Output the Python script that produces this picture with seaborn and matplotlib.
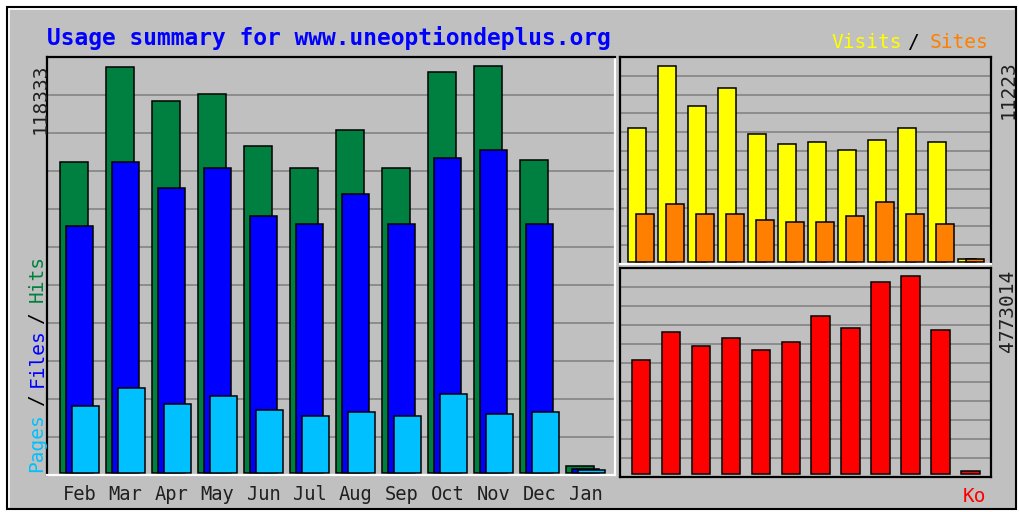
import matplotlib
matplotlib.use('Agg')
import matplotlib.pyplot as plt
import seaborn as sns
import numpy as np
from matplotlib.patches import Rectangle

# monthly usage values
months = ['Feb', 'Mar', 'Apr', 'May', 'Jun', 'Jul', 'Aug', 'Sep', 'Oct', 'Nov', 'Dec', 'Jan']
hits = [90400, 117900, 108150, 110200, 95050, 88650, 99700, 88650, 116550, 118333, 91000, 2000]
files = [71800, 90400, 82850, 88650, 74700, 72400, 81100, 72400, 91550, 93900, 72400, 1200]
pages = [19500, 24700, 20050, 22400, 18300, 16550, 17750, 16550, 22950, 17150, 17750, 900]
visits = [7670, 11223, 8930, 9960, 7330, 6760, 6870, 6410, 6990, 7670, 6870, 170]
sites = [2750, 3320, 2750, 2750, 2400, 2290, 2290, 2630, 3440, 2750, 2180, 170]
kbytes = [2737900, 3416300, 3077100, 3270900, 2980200, 3174000, 3803900, 3513200,
          4627700, 4773014, 3464800, 80000]

GREY = '#C0C0C0'
GRID = '#8c8c8c'
W, H = 1019, 512
MONO = 'DejaVu Sans Mono'

sns.set_style('white')
fig = plt.figure(figsize=(W / 100, H / 100), dpi=100)
fig.patch.set_facecolor('white')


def px(x, y):
    return x / W, 1 - y / H


def box(x0, y0, x1, y1):
    return [x0 / W, 1 - y1 / H, (x1 - x0) / W, (y1 - y0) / H]


# outer frame, kept behind the axes
fig.patches.append(Rectangle(px(7, 509), 1009 / W, 502 / H, transform=fig.transFigure,
                             facecolor=GREY, edgecolor='black', lw=1.5, zorder=-10))
fig.add_artist(plt.Line2D([9 / W, 1014 / W], [1 - 9 / H, 1 - 9 / H], color='white', lw=1.2,
                          transform=fig.transFigure, zorder=-9))
fig.add_artist(plt.Line2D([9 / W, 9 / W], [1 - 9 / H, 1 - 507 / H], color='white', lw=1.2,
                          transform=fig.transFigure, zorder=-9))


def setup(ax, vmax, below, above, span, xlim, spine_cols):
    ax.set_facecolor(GREY)
    lo = -vmax * below / span
    hi = vmax * (span + above) / span
    ax.set_ylim(lo, hi)
    ax.set_xlim(*xlim)
    for k in range(1, 11):
        ax.axhline(lo + (hi - lo) * k / 11, color=GRID, lw=1.4, zorder=0)
    for side, col in zip(['left', 'top', 'right', 'bottom'], spine_cols):
        ax.spines[side].set_visible(True)
        ax.spines[side].set_color(col)
        ax.spines[side].set_linewidth(1.6)
    ax.set_xlabel('')
    ax.set_ylabel('')
    ax.set_yticks([])


def bars(ax, pos, vals, color, width):
    sns.barplot(x=pos, y=vals, native_scale=True, color=color, width=width, saturation=1,
                edgecolor='black', linewidth=1.1, errorbar=None, ax=ax, zorder=2)


pos = np.arange(len(months), dtype=float)

# main panel: pages / files / hits
ax_main = fig.add_axes(box(47, 57, 615, 475))
bars(ax_main, pos - 0.12, hits, '#008040', 0.61)
bars(ax_main, pos, files, '#0000FF', 0.58)
bars(ax_main, pos + 0.13, pages, '#00C0FF', 0.59)
setup(ax_main, max(hits), 2, 9, 407, (-0.707, 11.64), ['black', 'black', 'white', 'white'])
ax_main.set_xticks(pos)
ax_main.set_xticklabels(months, fontsize=13.5, family=MONO, color='#202020')
ax_main.tick_params(axis='x', length=0, pad=7)

# visits / sites panel
ax_vis = fig.add_axes(box(620, 57, 991, 264))
bars(ax_vis, pos - 0.135, visits, '#FFFF00', 0.6)
bars(ax_vis, pos + 0.135, sites, '#FF8000', 0.6)
setup(ax_vis, max(visits), 2, 9, 196, (-0.7, 11.67), ['black', 'black', 'black', 'white'])
ax_vis.set_xticks([])

# kbytes panel
ax_kb = fig.add_axes(box(620, 268, 991, 477))
bars(ax_kb, pos, kbytes, '#FF0000', 0.63)
setup(ax_kb, max(kbytes), 3, 8, 198, (-0.7, 11.67), ['black', 'black', 'black', 'black'])
ax_kb.set_xticks([])

# texts
fig.text(*px(47, 38), 'Usage summary for www.uneoptiondeplus.org', family=MONO,
         fontweight='bold', fontsize=16.5, color='#0000FF', ha='left', va='center')

fig.text(*px(902, 42), 'Visits', family=MONO, fontsize=14, color='#FFFF00', ha='right', va='center')
fig.text(*px(913, 42), '/', family=MONO, fontsize=14, color='black', ha='center', va='center')
fig.text(*px(988, 42), 'Sites', family=MONO, fontsize=14, color='#FF8000', ha='right', va='center')

fig.text(*px(37, 472), 'Pages', family=MONO, fontsize=14, color='#00C0FF', rotation=90,
         ha='center', va='bottom')
fig.text(*px(37, 400), '/', family=MONO, fontsize=14, color='black', rotation=90,
         ha='center', va='center')
fig.text(*px(37, 387), 'Files', family=MONO, fontsize=14, color='#0000FF', rotation=90,
         ha='center', va='bottom')
fig.text(*px(37, 318), '/', family=MONO, fontsize=14, color='black', rotation=90,
         ha='center', va='center')
fig.text(*px(37, 302), 'Hits', family=MONO, fontsize=14, color='#008040', rotation=90,
         ha='center', va='bottom')

fig.text(*px(40, 64), f'{max(hits)}', family=MONO, fontsize=14, color='#202020', rotation=90,
         ha='center', va='top')
fig.text(*px(1008, 60), f'{max(visits)}', family=MONO, fontsize=14, color='#202020', rotation=90,
         ha='center', va='top')
fig.text(*px(1008, 270), f'{max(kbytes)}', family=MONO, fontsize=14, color='#202020', rotation=90,
         ha='center', va='top')
fig.text(*px(975, 497), 'Ko', family=MONO, fontsize=14, color='#FF0000', ha='center', va='center')

fig.savefig('out.png', dpi=100, facecolor='white')
